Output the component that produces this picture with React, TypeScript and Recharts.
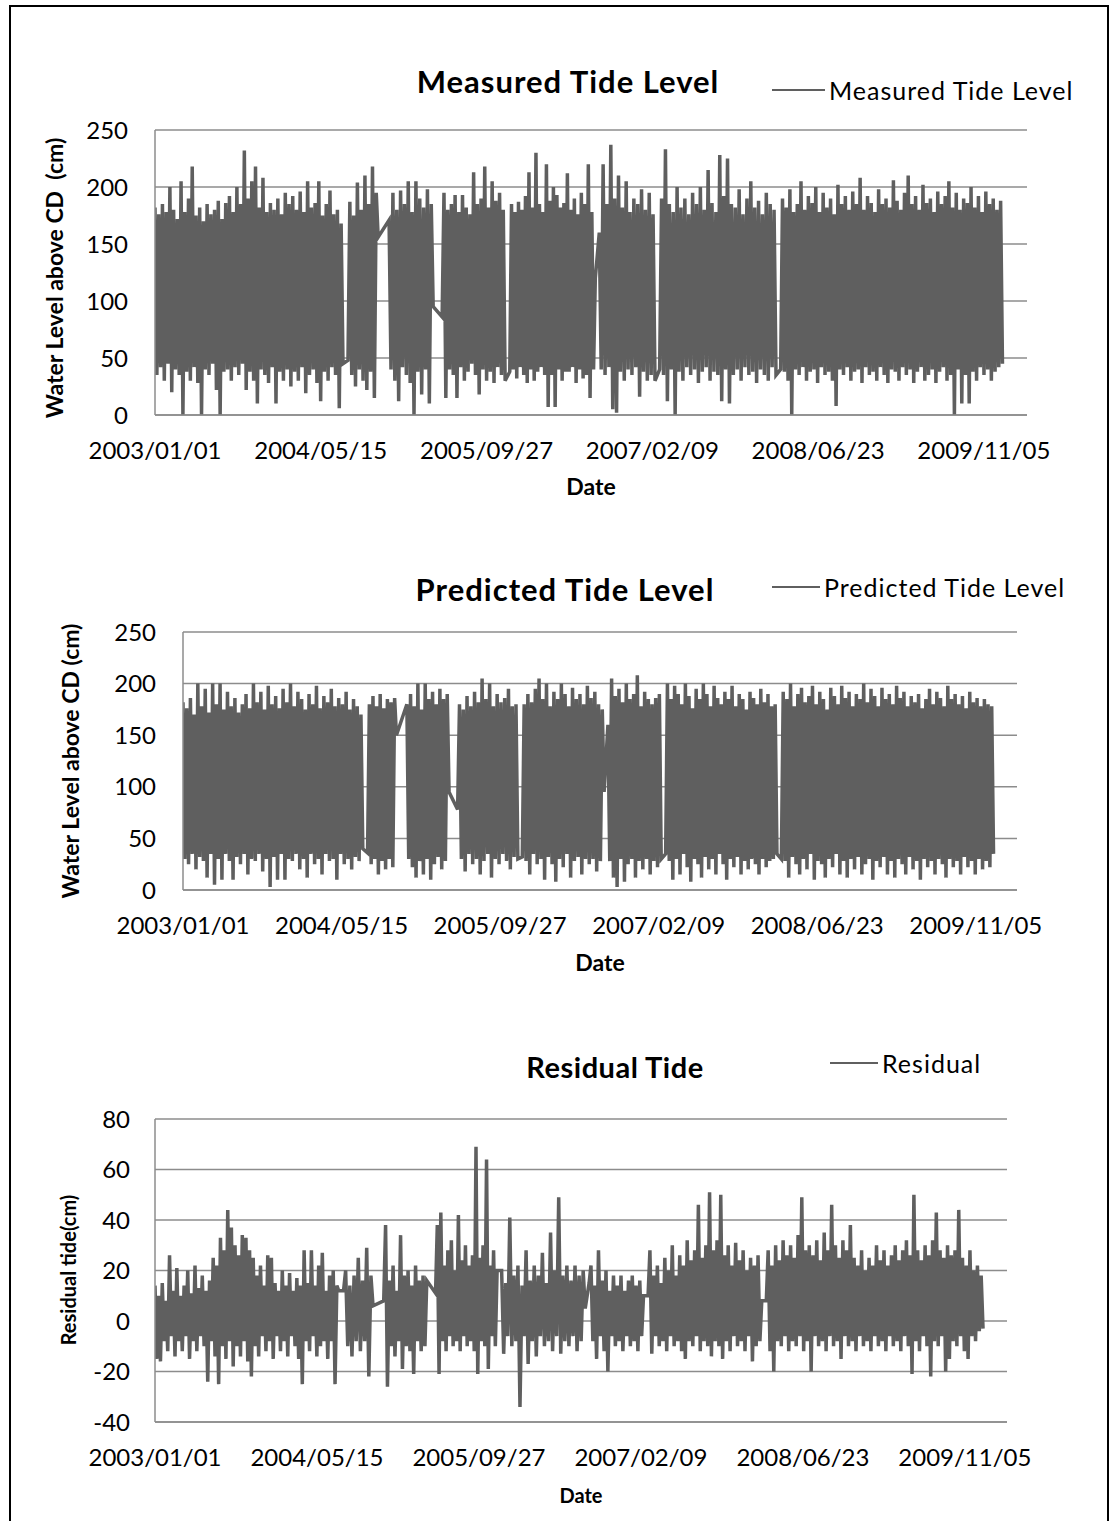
import React from 'react';
import { LineChart, Line, XAxis, YAxis, CartesianGrid } from 'recharts';

// Shared date axis: days since 2003/01/01
const tickDays = [0, 500, 1000, 1500, 2000, 2500];
const tickLabels = ['2003/01/01', '2004/05/15', '2005/09/27', '2007/02/09', '2008/06/23', '2009/11/05'];
const dayMax = 2630;

// Record blocks (days since 2003/01/01) separated by gaps in the gauge record
const segmentStart = [0, 582, 706, 866, 1070, 1340, 1522, 1887];
const segmentEnd = [567, 673, 839, 1056, 1328, 1508, 1873, 2556];

// Measured tide level (cm): successive high / low readings in each block
const measuredTrace = [
  [182, 35, 176, 42, 185, 30, 178, 45, 200, 20, 180, 40, 172, 35, 205, 0, 178, 38, 190, 30, 218, 42, 175, 28, 182, 0, 170, 40, 185, 35, 176, 45, 180, 22, 188, 0, 172, 38, 186, 40, 192, 30, 178, 42, 200, 35, 185, 45, 232, 22, 190, 38, 205, 30, 218, 10, 182, 40, 208, 35, 178, 28, 186, 42, 180, 10, 190, 38, 176, 30, 195, 40, 185, 25, 192, 38, 180, 30, 196, 42, 178, 19, 205, 35, 182, 40, 186, 28, 205, 12, 175, 38, 185, 30, 197, 42, 176, 35, 180, 6, 168, 45],
  [48, 187, 35, 175, 25, 204, 40, 180, 30, 210, 22, 185, 38, 218, 15, 195, 156],
  [171, 40, 195, 30, 180, 12, 197, 42, 185, 35, 205, 28, 178, 0, 205, 38, 190, 18, 182, 40, 198, 10, 185, 95],
  [86, 195, 15, 180, 40, 185, 35, 193, 15, 178, 42, 193, 30, 182, 38, 176, 45, 213, 35, 185, 18, 190, 40, 218, 30, 182, 38, 205, 28, 188, 42, 195, 35, 180, 30],
  [38, 185, 40, 178, 32, 187, 42, 180, 35, 192, 28, 213, 40, 182, 30, 230, 38, 185, 42, 178, 35, 220, 7, 188, 35, 200, 7, 193, 40, 182, 30, 186, 38, 212, 38, 180, 42, 190, 28, 176, 40, 195, 32, 185, 35, 220, 15, 178, 40, 120],
  [160, 40, 220, 35, 185, 42, 237, 5, 190, 2, 210, 38, 182, 30, 205, 40, 178, 35, 190, 42, 185, 16, 198, 38, 180, 30, 195, 35, 176, 30],
  [40, 190, 35, 233, 12, 185, 40, 178, 0, 200, 38, 182, 30, 190, 42, 176, 35, 195, 40, 185, 28, 200, 38, 180, 42, 215, 30, 186, 38, 178, 35, 228, 12, 192, 40, 225, 10, 185, 35, 182, 40, 198, 30, 176, 42, 190, 35, 205, 38, 182, 28, 188, 40, 176, 35, 195, 30, 185, 42, 180, 35],
  [40, 190, 38, 182, 30, 198, 0, 178, 40, 185, 35, 205, 42, 180, 30, 192, 38, 186, 40, 200, 28, 178, 42, 195, 35, 182, 38, 190, 30, 176, 8, 202, 40, 185, 35, 192, 42, 180, 30, 196, 38, 185, 40, 208, 28, 180, 42, 192, 35, 186, 38, 178, 30, 198, 42, 185, 35, 190, 28, 182, 40, 206, 38, 188, 30, 180, 42, 195, 35, 210, 40, 185, 28, 192, 38, 180, 42, 202, 30, 186, 35, 190, 40, 178, 28, 196, 38, 185, 42, 192, 30, 205, 35, 182, 0, 195, 40, 180, 10, 190, 35, 186, 10, 200, 38, 182, 30, 192, 42, 178, 35, 196, 40, 185, 30, 190, 38, 180, 42, 188, 45],
];

// Predicted tide level (cm)
const predictedTrace = [
  [182, 30, 176, 25, 186, 35, 170, 20, 200, 32, 178, 28, 195, 12, 172, 35, 200, 5, 180, 30, 200, 10, 175, 35, 192, 28, 178, 10, 186, 32, 172, 25, 180, 35, 190, 15, 176, 30, 200, 28, 182, 35, 192, 18, 175, 30, 198, 3, 180, 32, 188, 10, 176, 35, 195, 10, 182, 30, 200, 28, 178, 35, 192, 20, 185, 30, 175, 12, 190, 35, 180, 25, 198, 30, 176, 15, 188, 35, 182, 28, 195, 30, 178, 10, 186, 35, 180, 25, 192, 30, 175, 20, 185, 32, 178, 28, 170, 40],
  [36, 180, 25, 188, 30, 178, 15, 190, 28, 176, 20, 185, 30, 182, 22, 186, 150],
  [180, 30, 190, 22, 178, 12, 200, 28, 175, 15, 200, 30, 185, 10, 192, 25, 180, 32, 195, 20, 185, 28, 190, 95],
  [78, 180, 30, 175, 18, 188, 35, 178, 25, 192, 30, 182, 15, 205, 28, 185, 35, 200, 12, 178, 30, 190, 25, 182, 35, 186, 28, 195, 20, 178, 32, 180, 30],
  [32, 180, 28, 190, 15, 182, 35, 195, 25, 205, 30, 185, 10, 200, 32, 178, 25, 192, 8, 185, 30, 200, 22, 190, 35, 178, 12, 196, 28, 185, 32, 190, 15, 180, 30, 198, 25, 186, 30, 192, 18, 180, 28, 175, 95],
  [160, 28, 205, 12, 188, 3, 195, 30, 182, 8, 200, 25, 185, 30, 190, 12, 208, 28, 178, 20, 192, 30, 185, 15, 180, 28, 186, 22, 190, 30],
  [35, 200, 28, 185, 10, 198, 30, 190, 15, 180, 35, 200, 22, 188, 8, 176, 30, 195, 25, 185, 12, 200, 32, 190, 20, 178, 30, 198, 15, 186, 35, 180, 25, 192, 10, 185, 30, 198, 22, 178, 32, 190, 15, 185, 28, 175, 20, 192, 30, 186, 25, 180, 15, 195, 30, 182, 22, 190, 28, 178, 30, 180, 35],
  [30, 192, 28, 185, 12, 200, 32, 178, 25, 190, 15, 196, 30, 182, 20, 188, 35, 198, 10, 180, 28, 192, 25, 185, 12, 175, 30, 196, 22, 188, 35, 180, 15, 198, 28, 186, 12, 192, 30, 178, 20, 190, 32, 185, 15, 200, 25, 182, 30, 195, 10, 188, 28, 178, 22, 196, 32, 185, 15, 190, 28, 180, 12, 198, 30, 186, 25, 192, 15, 178, 32, 188, 20, 182, 28, 190, 10, 176, 30, 185, 22, 195, 28, 180, 15, 192, 30, 186, 25, 178, 12, 198, 30, 185, 22, 190, 28, 180, 15, 188, 32, 176, 22, 192, 28, 182, 15, 186, 30, 178, 20, 185, 28, 180, 22, 178, 35],
];

// Residual tide (cm)
const residualTrace = [
  [14, -15, 10, -16, 15, -8, 8, -12, 26, -6, 12, -14, 21, -8, 10, -12, 14, -6, 20, -15, 11, -8, 22, -12, 13, -6, 18, -10, 12, -24, 16, -8, 25, -14, 22, -25, 33, -10, 28, -15, 44, -8, 37, -18, 30, -10, 26, -14, 34, -8, 33, -16, 28, -22, 25, -10, 18, -14, 22, -6, 14, -12, 26, -8, 25, -15, 15, -6, 12, -12, 20, -8, 14, -14, 19, -6, 12, -10, 17, -15, 14, -25, 28, -8, 15, -12, 28, -6, 14, -14, 22, -10, 27, -8, 12, -15, 18, -8, 20, -25, 14, 12],
  [12, 20, -10, 14, -14, 18, -8, 25, -12, 16, -8, 29, -22, 18, 6],
  [8, 38, -26, 16, -10, 22, -14, 12, -8, 34, -19, 18, -10, 20, -12, 14, -21, 22, -8, 16, -12, 18, -10, 16],
  [11, 38, -21, 43, -8, 22, -12, 28, -6, 32, -10, 20, -8, 42, -12, 24, -6, 30, -10, 22, -8, 26, -12, 69, -21, 25, -8, 30, -10, 64, -19, 22, -6, 28, -10, 20],
  [20, -13, 15, -6, 41, -10, 18, -8, 22, -34, 14, -6, 28, -17, 16, -8, 22, -14, 18, -6, 27, -10, 15, -8, 35, -12, 20, -6, 49, -13, 18, -8, 22, -10, 16, -6, 22, -12, 18, -8, 20, 5],
  [15, 22, -8, 14, -15, 28, -6, 16, -12, 20, -20, 12, -6, 18, -10, 14, -8, 18, -12, 12, -6, 16, -10, 18, -8, 14, -12, 16, -6, 10],
  [10, 28, -13, 18, -6, 22, -10, 15, -8, 25, -12, 20, -6, 30, -10, 18, -8, 26, -12, 22, -15, 32, -8, 24, -10, 28, -6, 46, -12, 25, -8, 30, -10, 51, -14, 28, -8, 32, -10, 50, -15, 26, -8, 30, -12, 22, -6, 31, -10, 24, -8, 28, -12, 20, -6, 25, -16, 22, -10, 26, -8, 8],
  [8, 28, -12, 22, -20, 30, -8, 24, -10, 32, -6, 26, -12, 30, -8, 25, -10, 34, -6, 49, -12, 28, -8, 30, -20, 26, -6, 32, -10, 24, -8, 35, -12, 28, -6, 46, -10, 30, -8, 25, -15, 32, -6, 28, -10, 38, -8, 25, -12, 22, -6, 28, -10, 20, -8, 25, -12, 22, -6, 30, -10, 24, -8, 28, -12, 22, -6, 26, -10, 30, -8, 24, -12, 28, -6, 32, -10, 26, -21, 50, -8, 28, -12, 24, -6, 30, -10, 26, -22, 32, -8, 43, -10, 28, -6, 25, -20, 30, -15, 26, -8, 28, -10, 44, -6, 25, -12, 22, -15, 28, -6, 20, -8, 22, -4, 18, -3],
];

const levelTicks = [0, 50, 100, 150, 200, 250];
const residualTicks = [-40, -20, 0, 20, 40, 60, 80];

const INK = '#5f5f5f';
const GRID = '#8c8c8c';
const FONT = 'Lato, "Open Sans", sans-serif';

const spread = (s: number, i: number, n: number) =>
  n === 1 ? segmentStart[s] : segmentStart[s] + ((segmentEnd[s] - segmentStart[s]) * i) / (n - 1);

function traceRows(trace: number[][]) {
  const rows: { day: number; v: number }[] = [];
  trace.forEach((vals, s) => vals.forEach((v, i) => rows.push({ day: spread(s, i, vals.length), v })));
  return rows;
}

type ChartProps = {
  top: number;
  height: number;
  margin: { top: number; right: number; left: number; bottom: number };
  yDomain: [number, number];
  yTicks: number[];
  trace: number[][];
  tickGap: number;
};

function TideChart({ top, height, margin, yDomain, yTicks, trace, tickGap }: ChartProps) {
  const rows = traceRows(trace);
  const tickStyle = { fill: '#000', fontSize: 24, fontFamily: FONT };
  return (
    <div style={{ position: 'absolute', left: 0, top }}>
      <LineChart width={1113} height={height} margin={margin} data={rows}>
        <CartesianGrid vertical={false} stroke={GRID} strokeWidth={1.5} />
        <XAxis
          type="number"
          dataKey="day"
          domain={[0, dayMax]}
          ticks={tickDays}
          interval={0}
          allowDataOverflow
          tickFormatter={(v: number) => tickLabels[tickDays.indexOf(v)] ?? ''}
          tickLine={false}
          tickSize={0}
          tickMargin={27}
          axisLine={{ stroke: GRID, strokeWidth: 1.5 }}
          tick={tickStyle}
          height={60}
        />
        <YAxis
          type="number"
          domain={yDomain}
          ticks={yTicks}
          interval={0}
          allowDataOverflow
          tickLine={false}
          tickSize={0}
          tickMargin={tickGap}
          axisLine={{ stroke: GRID, strokeWidth: 1.5 }}
          tick={tickStyle}
          width={100}
        />
        <Line
          dataKey="v"
          type="linear"
          stroke={INK}
          strokeWidth={3.5}
          dot={false}
          activeDot={false}
          isAnimationActive={false}
        />
      </LineChart>
    </div>
  );
}

const abs = (left: number, top: number, extra: React.CSSProperties = {}): React.CSSProperties => ({
  position: 'absolute',
  left,
  top,
  transform: 'translate(-50%, -50%)',
  whiteSpace: 'nowrap',
  fontFamily: FONT,
  color: '#000',
  lineHeight: 1.2,
  ...extra,
});

function LegendEntry({ x1, x2, y, label }: { x1: number; x2: number; y: number; label: string }) {
  return (
    <>
      <div style={{ position: 'absolute', left: x1, top: y - 1, width: x2 - x1, height: 2, background: INK }} />
      <div style={{ ...abs(x2 + 4, y, { fontSize: 25, letterSpacing: 1 }), transform: 'translate(0, -50%)' }}>{label}</div>
    </>
  );
}

const titleStyle = { fontSize: 31, fontWeight: 700, letterSpacing: 1 };

export default function App() {
  return (
    <div style={{ position: 'absolute', left: 0, top: 0, width: 1113, height: 1521, background: '#fff', overflow: 'hidden' }}>
      <div
        style={{
          position: 'absolute',
          left: 9,
          top: 5,
          width: 1100,
          height: 1530,
          borderLeft: '2.5px solid #000',
          borderTop: '2.5px solid #000',
          borderRight: '2.5px solid #000',
          boxSizing: 'border-box',
        }}
      />

      {/* Chart 1: measured */}
      <div style={abs(568, 82, titleStyle)}>Measured Tide Level</div>
      <LegendEntry x1={772} x2={825} y={90} label="Measured Tide Level" />
      <TideChart
        top={100}
        height={375}
        margin={{ top: 30, right: 86, left: 55, bottom: 0 }}
        yDomain={[0, 250]}
        yTicks={levelTicks}
        trace={measuredTrace}
        tickGap={27}
      />
      <div style={abs(55, 278, { fontSize: 23, fontWeight: 700, transform: 'translate(-50%, -50%) rotate(-90deg)' })}>
        Water Level above CD&nbsp; (cm)
      </div>
      <div style={abs(591, 487, { fontSize: 23, fontWeight: 700 })}>Date</div>

      {/* Chart 2: predicted */}
      <div style={abs(565, 590, titleStyle)}>Predicted Tide Level</div>
      <LegendEntry x1={772} x2={820} y={587} label="Predicted Tide Level" />
      <TideChart
        top={600}
        height={350}
        margin={{ top: 32, right: 96, left: 83, bottom: 0 }}
        yDomain={[0, 250]}
        yTicks={levelTicks}
        trace={predictedTrace}
        tickGap={27}
      />
      <div style={abs(71, 761, { fontSize: 23, fontWeight: 700, transform: 'translate(-50%, -50%) rotate(-90deg)' })}>
        Water Level above CD (cm)
      </div>
      <div style={abs(600, 963, { fontSize: 23, fontWeight: 700 })}>Date</div>

      {/* Chart 3: residual */}
      <div style={abs(615, 1067, { fontSize: 29, fontWeight: 700, letterSpacing: 0.5 })}>Residual Tide</div>
      <LegendEntry x1={830} x2={878} y={1063} label="Residual" />
      <TideChart
        top={1090}
        height={392}
        margin={{ top: 29, right: 106, left: 55, bottom: 0 }}
        yDomain={[-40, 80]}
        yTicks={residualTicks}
        trace={residualTrace}
        tickGap={25}
      />
      <div style={abs(68, 1270, { fontSize: 20, fontWeight: 700, transform: 'translate(-50%, -50%) rotate(-90deg)' })}>
        Residual tide(cm)
      </div>
      <div style={abs(581, 1495, { fontSize: 20, fontWeight: 700 })}>Date</div>
    </div>
  );
}
